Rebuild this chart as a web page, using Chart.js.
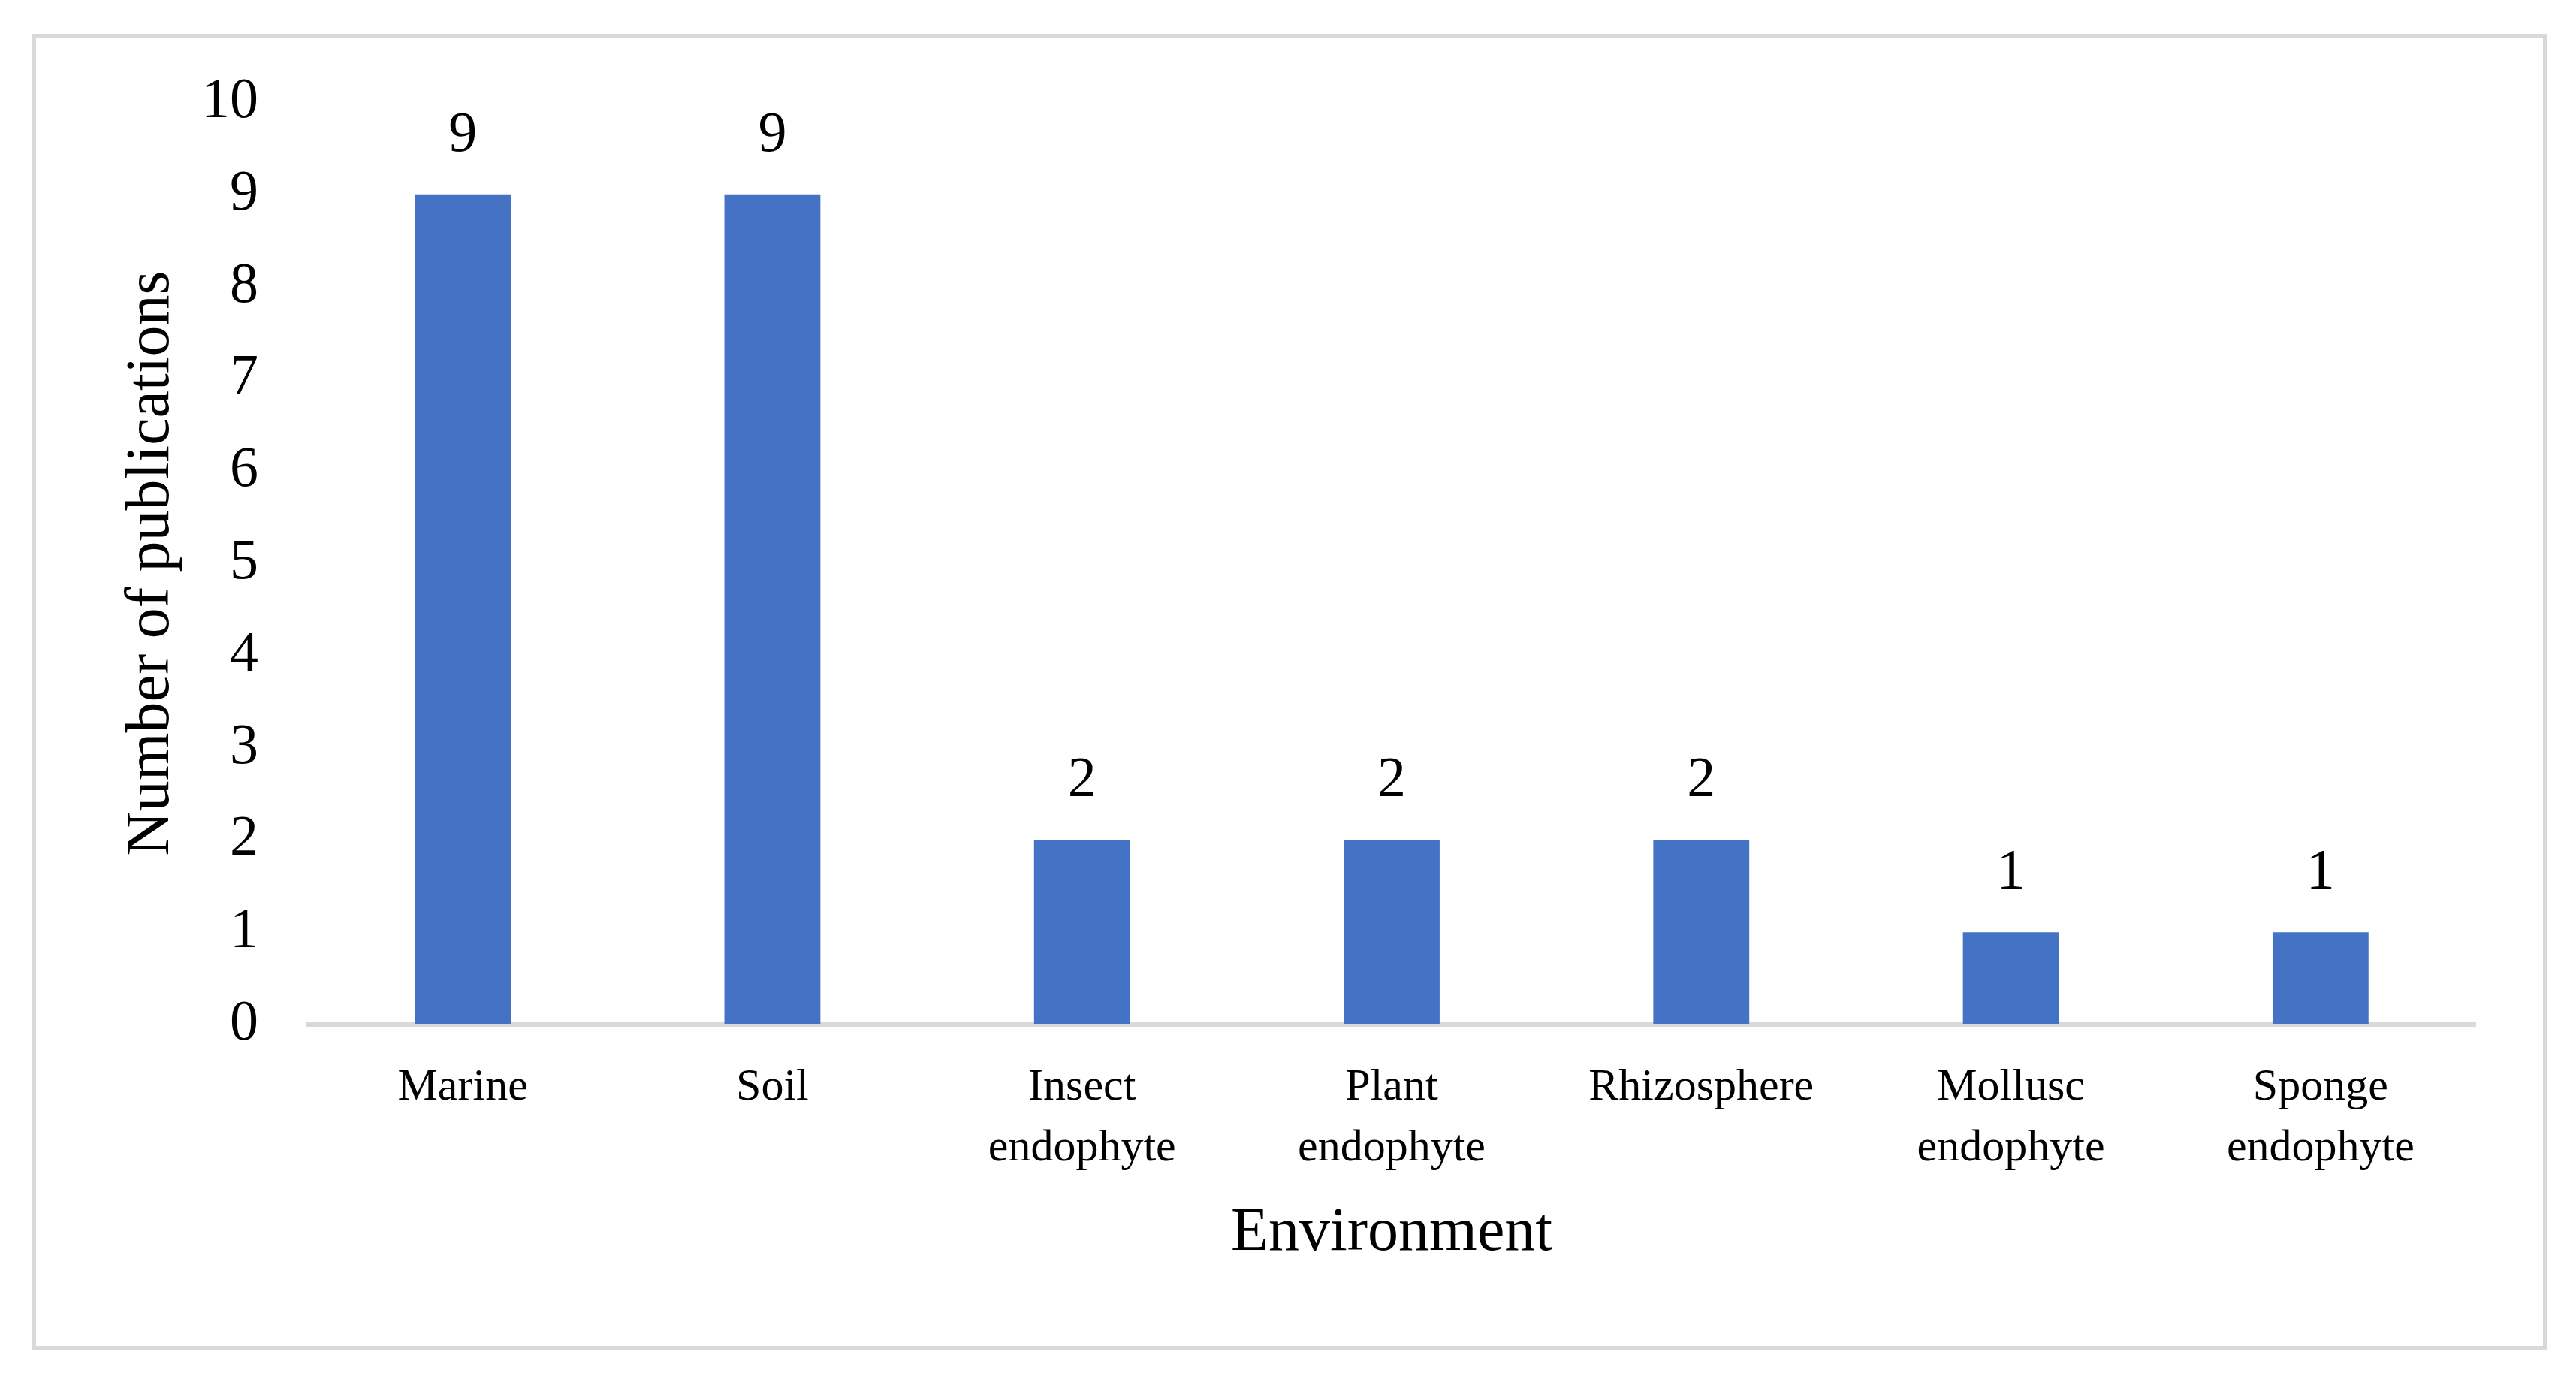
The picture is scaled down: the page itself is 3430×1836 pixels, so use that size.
<!DOCTYPE html>
<html>
<head>
<meta charset="utf-8">
<script src="https://cdn.jsdelivr.net/npm/chart.js@4"></script>
<style>
  html, body { margin: 0; padding: 0; background: #fff; overflow: hidden; }
  #wrap { width: 3430px; height: 1836px; position: relative; }
</style>
</head>
<body>
<div id="wrap"><canvas id="envChart"></canvas></div>
<script>
const environments = ['Marine', 'Soil', ['Insect', 'endophyte'], ['Plant', 'endophyte'], 'Rhizosphere', ['Mollusc', 'endophyte'], ['Sponge', 'endophyte']];
const publications = [9, 9, 2, 2, 2, 1, 1];
const yTicks = [0, 1, 2, 3, 4, 5, 6, 7, 8, 9, 10];

const serif = "'Liberation Serif', 'Times New Roman', serif";

// grey frame round the whole figure
const framePlugin = {
  id: 'frame',
  beforeDraw(chart) {
    const ctx = chart.ctx;
    ctx.save();
    ctx.strokeStyle = '#d9d9d9';
    ctx.lineWidth = 6;
    ctx.strokeRect(45, 48, 3344, 1747);
    ctx.restore();
  }
};

// value labels above bars
const valueLabels = {
  id: 'valueLabels',
  afterDatasetsDraw(chart) {
    const ctx = chart.ctx;
    const meta = chart.getDatasetMeta(0);
    ctx.save();
    ctx.fillStyle = '#000';
    ctx.font = '76px ' + serif;
    ctx.textAlign = 'center';
    ctx.textBaseline = 'middle';
    meta.data.forEach((bar, i) => {
      ctx.fillText(String(publications[i]), bar.x, bar.y - 78);
    });
    ctx.restore();
  }
};

new Chart(document.getElementById('envChart'), {
  type: 'bar',
  data: {
    labels: environments,
    datasets: [{
      data: publications,
      backgroundColor: '#4472C4',
      barPercentage: 0.31,
      categoryPercentage: 1
    }]
  },
  options: {
    responsive: true,
    maintainAspectRatio: false,
    animation: false,
    layout: { padding: { left: 153, right: 134, top: 136, bottom: 144 } },
    plugins: {
      legend: { display: false },
      tooltip: { enabled: false }
    },
    scales: {
      x: {
        grid: { display: false, drawTicks: false },
        border: { display: true, color: '#d9d9d9', width: 6 },
        ticks: {
          color: '#000',
          padding: 44,
          maxRotation: 0,
          autoSkip: false,
          font: { family: serif, size: 60, lineHeight: 1.35 }
        },
        title: {
          display: true,
          text: 'Environment',
          color: '#000',
          padding: 0,
          font: { family: serif, size: 82, lineHeight: 1.2 }
        },
        afterFit(scale) { scale.height = 328; }
      },
      y: {
        min: 0,
        max: 10,
        grid: { display: false, drawTicks: false },
        border: { display: false },
        afterBuildTicks(scale) { scale.ticks = yTicks.map(v => ({ value: v })); },
        ticks: {
          color: '#000',
          padding: 66,
          font: { family: serif, size: 76 }
        },
        title: {
          display: true,
          text: 'Number of publications',
          color: '#000',
          padding: 0,
          font: { family: serif, size: 82, lineHeight: 1.2 }
        },
        afterFit(scale) { scale.width = 257; }
      }
    }
  },
  plugins: [framePlugin, valueLabels]
});
</script>
</body>
</html>
